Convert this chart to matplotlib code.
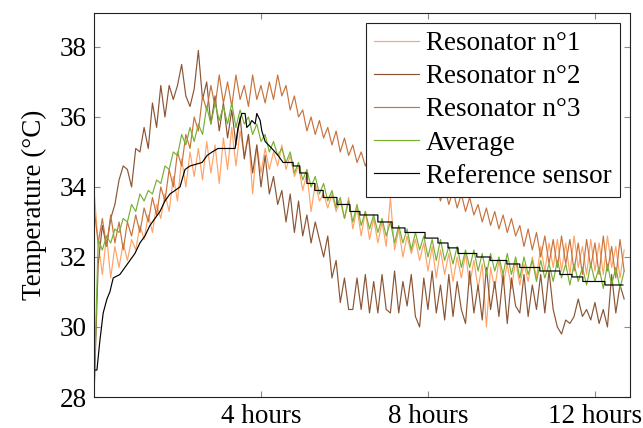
import numpy as np
import matplotlib

matplotlib.use("Agg")
import matplotlib.pyplot as plt

# samples every 0.1 h
SAMPLE_STEP_H = 0.1

resonator_1 = [
    33.9, 32.4, 31.5, 32.6, 31.4, 32.3, 31.7, 32.4, 31.9, 32.5,
    32.2, 32.9, 32.5, 33.2, 32.7, 33.5, 33.1, 33.8, 33.3, 34.3,
    33.6, 34.8, 34.0, 35.0, 34.3, 35.1, 34.2, 35.3, 34.4, 35.2,
    34.1, 35.4, 34.5, 35.7, 34.6, 35.6, 34.9, 35.5, 33.8, 35.2,
    34.4, 35.1, 34.5, 35.0, 34.6, 35.2, 34.5, 34.9, 34.3, 34.6,
    33.9, 34.4, 33.3, 34.1, 33.6, 33.8, 33.4, 33.8, 33.3, 33.6,
    33.1, 33.7, 32.8, 33.4, 32.6, 33.3, 32.5, 33.1, 32.4, 33.0,
    32.3, 33.7, 32.2, 32.8, 32.0, 32.6, 32.1, 32.5, 31.9, 32.4,
    31.6, 32.3, 31.4, 32.2, 31.5, 32.1, 31.3, 32.0, 31.4, 32.1,
    31.2, 31.9, 31.1, 31.8, 30.0, 31.7, 31.1, 31.9, 31.2, 31.8,
    31.1, 31.9, 31.2, 31.8, 31.3, 32.0, 31.4, 32.3, 31.6, 32.4,
    31.7, 32.5, 31.6, 32.4, 31.5, 32.6, 31.7, 32.3, 31.5, 32.5,
    31.6, 32.4, 31.5, 32.6, 31.7, 32.3, 31.4, 32.2,
]

resonator_2 = [
    28.0, 31.8, 32.9, 32.3, 33.1, 33.5, 34.2, 34.6, 34.5, 34.0,
    35.1, 35.0, 35.7, 35.1, 36.4, 35.7, 36.9, 36.0, 36.9, 36.5,
    36.9, 37.5, 36.6, 36.3, 36.8, 37.9, 36.5, 37.0, 35.8, 36.6,
    35.6, 36.4, 35.4, 36.2, 35.2, 36.0, 34.8, 35.5, 34.4, 35.2,
    34.0, 34.9, 33.8, 34.3, 33.5, 33.9, 33.0, 33.8, 32.7, 33.6,
    32.6, 33.2, 32.4, 33.0, 32.5, 32.0, 32.6, 31.4, 31.9, 30.7,
    31.4, 30.5, 30.5, 31.4, 30.5, 31.5, 30.4, 31.3, 30.4, 31.5,
    30.5, 30.4, 31.6, 30.4, 31.3, 30.6, 31.5, 30.3, 30.0, 31.4,
    30.5, 31.6, 30.4, 31.2, 30.2, 31.5, 30.3, 31.3, 30.5, 30.1,
    31.6, 30.4, 31.2, 30.2, 31.7, 30.5, 31.3, 30.3, 31.5, 30.1,
    31.4, 30.6, 30.4, 31.5, 30.3, 31.2, 30.5, 31.5, 30.4, 31.6,
    30.5, 30.0, 29.8, 30.2, 30.1, 30.3, 30.8, 30.3, 30.5, 30.2,
    30.7, 30.1, 30.5, 30.0, 31.5, 30.4, 31.2, 30.8,
]

resonator_3 = [
    33.4, 32.4, 33.1, 32.3, 33.2, 32.4, 33.0, 32.2, 33.0, 32.6,
    33.2, 32.7, 33.4, 33.0, 33.7, 33.2, 34.0, 33.6, 34.5, 34.0,
    35.0, 34.6, 35.5, 35.1, 36.0, 35.6, 36.6, 36.2, 36.9, 36.3,
    37.2, 36.4, 37.0, 36.3, 37.2, 36.5, 36.9, 36.3, 37.2, 36.5,
    36.9, 36.4, 37.0, 36.5, 37.2, 36.6, 36.9, 36.2, 36.6, 36.0,
    36.2, 35.6, 36.0, 35.5, 35.9, 35.4, 35.7, 35.2, 35.6, 35.0,
    35.4, 34.9, 35.2, 34.7, 35.0, 34.6, 34.9, 34.4, 34.8, 34.3,
    34.7, 34.2, 34.6, 34.1, 34.5, 34.0, 34.4, 33.9, 34.3, 33.8,
    34.2, 33.7, 34.1, 33.6, 34.0, 33.5, 33.9, 33.4, 33.8, 33.3,
    33.7, 33.2, 33.5, 33.0, 33.4, 32.9, 33.3, 32.8, 33.2, 32.7,
    33.1, 32.6, 32.9, 32.3, 32.8, 32.2, 32.7, 32.0, 32.6, 31.8,
    32.5, 31.7, 32.6, 31.8, 32.5, 31.6, 32.4, 31.5, 32.5, 31.7,
    32.4, 31.5, 32.6, 31.6, 32.3, 31.4, 32.5, 31.6,
]

average = [
    28.0, 32.5, 32.2, 32.6, 32.4, 32.8, 32.7, 33.1, 33.0, 33.5,
    33.3, 33.8, 33.6, 33.9, 33.8, 34.2, 34.1, 34.6, 34.5, 35.0,
    34.9, 35.5, 35.2, 35.7, 35.3, 35.8, 35.5, 36.3, 35.8, 36.4,
    35.9, 36.3, 35.8, 36.4, 35.7, 36.2, 35.8, 36.0, 35.5, 35.8,
    35.3, 35.5, 35.0, 35.3, 34.9, 35.1, 34.7, 35.0, 34.4, 34.7,
    34.2, 34.5, 34.0, 34.3, 33.8, 34.1, 33.6, 33.9, 33.4, 33.7,
    33.1, 33.6, 33.0, 33.5, 32.9, 33.3, 32.8, 33.2, 32.7, 33.1,
    32.6, 33.0, 32.4, 32.9, 32.4, 32.8, 32.2, 32.7, 32.2, 32.6,
    32.0, 32.5, 31.9, 32.5, 31.9, 32.3, 31.8, 32.3, 31.7, 32.2,
    31.7, 32.2, 31.6, 32.1, 31.5, 32.1, 31.6, 32.0, 31.5, 32.1,
    31.5, 32.0, 31.4, 32.0, 31.5, 31.9, 31.3, 31.9, 31.4, 31.8,
    31.3, 31.9, 31.4, 31.8, 31.2, 31.8, 31.3, 31.7, 31.2, 31.8,
    31.3, 31.7, 31.1, 31.8, 31.2, 31.7, 31.1, 31.6,
]

# reference sensor: smooth-ish rise, then the logger's coarse steps
ref_hours = [
    0.00, 0.07, 0.14, 0.22, 0.31, 0.38, 0.46, 0.62, 0.74, 0.86,
    0.98, 1.10, 1.22, 1.34, 1.46, 1.58, 1.70, 1.82, 1.94, 2.06,
    2.18, 2.30, 2.59, 2.71, 2.83, 2.97, 3.38, 3.45, 3.54, 3.62,
    3.66, 3.74, 3.78, 3.86, 3.90, 3.98, 4.02, 4.10, 4.26, 4.41,
    4.53, 4.77, 4.77, 4.93, 4.93, 5.10, 5.10, 5.29, 5.29, 5.49,
    5.49, 5.82, 5.82, 6.13, 6.13, 6.37, 6.37, 6.80, 6.80, 7.14,
    7.14, 7.45, 7.45, 7.93, 7.93, 8.24, 8.24, 8.48, 8.48, 8.72,
    8.72, 9.17, 9.17, 9.49, 9.49, 9.89, 9.89, 10.20, 10.20, 10.68,
    10.68, 11.16, 11.16, 11.45, 11.45, 11.71, 11.71, 12.24, 12.24, 12.67,
]
ref_temp = [
    28.77, 28.77, 29.6, 30.4, 30.8, 31.0, 31.4, 31.5, 31.7, 31.9,
    32.1, 32.4, 32.6, 32.9, 33.1, 33.3, 33.6, 33.8, 33.9, 34.0,
    34.5, 34.6, 34.7, 34.9, 35.0, 35.1, 35.1, 35.7, 36.1, 36.1,
    35.7, 35.8, 35.9, 35.8, 36.1, 35.9, 35.6, 35.3, 35.1, 34.9,
    34.7, 34.7, 34.6, 34.6, 34.4, 34.4, 34.1, 34.1, 33.9, 33.9,
    33.7, 33.7, 33.5, 33.5, 33.3, 33.3, 33.2, 33.2, 33.0, 33.0,
    32.83, 32.83, 32.7, 32.7, 32.54, 32.54, 32.4, 32.4, 32.26, 32.26,
    32.1, 32.1, 32.0, 32.0, 31.9, 31.9, 31.8, 31.8, 31.7, 31.7,
    31.6, 31.6, 31.5, 31.5, 31.43, 31.43, 31.3, 31.3, 31.2, 31.2,
]

x_ticks = [4, 8, 12]
x_tick_labels = ["4 hours", "8 hours", "12 hours"]
y_ticks = [28, 30, 32, 34, 36, 38]

FS = 19.5
plt.rcParams["font.family"] = ["Liberation Serif", "DejaVu Serif"]

fig = plt.figure(figsize=(6.43, 4.28), dpi=100)
ax = fig.add_axes([94 / 643, 1 - 397 / 428, 536 / 643, 384 / 428])

hours = np.arange(len(resonator_1)) * SAMPLE_STEP_H
lw = 0.85
ax.plot(hours, resonator_1, color="#ffa366", lw=lw, label="Resonator n°1")
ax.plot(hours, resonator_2, color="#8a5535", lw=lw, label="Resonator n°2")
ax.plot(hours, resonator_3, color="#c6733e", lw=lw, label="Resonator n°3")
ax.plot(hours, average, color="#78b034", lw=lw, label="Average")
ax.plot(ref_hours, ref_temp, color="black", lw=lw, label="Reference sensor")

ax.set_xlim(0, 12.84)
ax.set_ylim(28, 38.97)
ax.set_xticks(x_ticks)
ax.set_xticklabels(x_tick_labels)
ax.set_yticks(y_ticks)
ax.tick_params(direction="in", length=4.5, width=0.8, color="#8a8a8a",
               labelsize=FS, top=True, right=True, pad=5, labelcolor="black")
for s in ax.spines.values():
    s.set_linewidth(0.8)
    s.set_color("#222222")
ax.set_ylabel("Temperature (°C)", fontsize=FS, labelpad=9)

leg = ax.legend(loc="upper right", fontsize=FS, frameon=True, fancybox=False,
                framealpha=1, edgecolor="#222222", handlelength=1.66,
                borderaxespad=0.37, labelspacing=0.3, handletextpad=0.25,
                borderpad=0.3)
leg.get_frame().set_linewidth(0.8)

fig.savefig("out.png", dpi=100)
